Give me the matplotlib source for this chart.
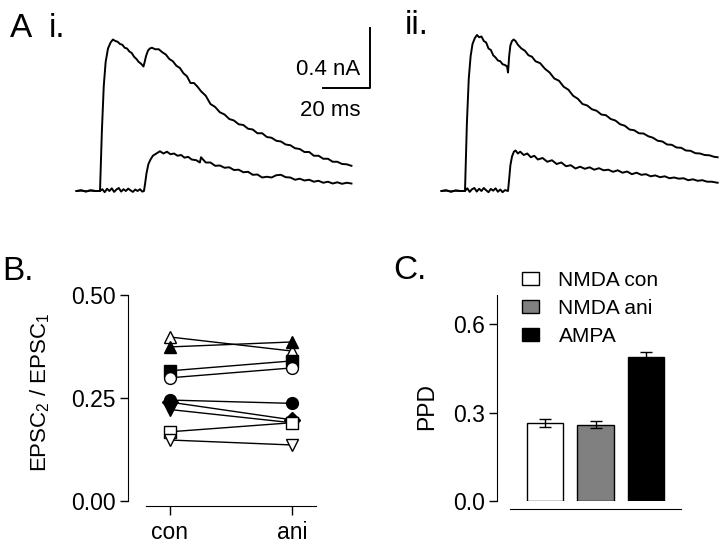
import matplotlib
matplotlib.use('Agg')
import matplotlib.pyplot as plt
from matplotlib.patches import Patch

plt.rcParams['font.family'] = ['Liberation Sans', 'DejaVu Sans']
plt.rcParams['mathtext.fontset'] = 'custom'
plt.rcParams['mathtext.rm'] = 'Liberation Sans'
plt.rcParams['mathtext.it'] = 'Liberation Sans'

W, H = 720, 548

# ---- panel A traces (time in ms from first stimulus, current in nA, inverted) ----
t_i_dual = [-10, -8, -6, -4, -2, 0, 0.8, 1.6, 2.4, 3.4, 4.5, 5.5, 6.5, 7.5, 8.5, 9.5,
            10.5, 11.5, 12.5, 13.5, 14.5, 15.5, 16.5, 17.5, 18.5, 19.0, 19.6, 20.4,
            21.2, 22.1, 23.5, 25, 26.5, 28, 29.5, 31, 32.5, 34, 35.5, 37, 38.5, 40,
            41.5, 43, 45, 47, 49, 51, 53, 55, 57, 59, 61, 63, 65, 67, 69, 71, 73, 75,
            77, 79, 81, 83, 85, 87, 89, 91, 93, 95, 97, 99, 101, 103, 105, 107]
i_i_dual = [0.0, 0.004, -0.003, 0.004, 0.0, 0.0, 0.40, 0.70, 0.86, 0.95, 0.99, 1.01,
            1.0, 0.995, 0.98, 0.975, 0.955, 0.95, 0.93, 0.92, 0.895, 0.88, 0.86, 0.848,
            0.83, 0.86, 0.90, 0.935, 0.95, 0.955, 0.945, 0.945, 0.925, 0.91, 0.88,
            0.865, 0.835, 0.82, 0.785, 0.765, 0.72, 0.72, 0.695, 0.665, 0.635, 0.58,
            0.56, 0.525, 0.51, 0.48, 0.47, 0.445, 0.44, 0.415, 0.41, 0.385, 0.385,
            0.36, 0.355, 0.335, 0.33, 0.31, 0.305, 0.285, 0.28, 0.26, 0.26, 0.235,
            0.235, 0.215, 0.215, 0.195, 0.195, 0.18, 0.178, 0.168]

t_i_nmda = [-10, -8, -6, -4, -2, 0, 1, 2, 3, 4, 5, 6, 7, 8, 9, 10, 11, 12, 13, 14, 15,
            16, 17, 18, 18.7, 19.2, 19.8, 20.6, 21.5, 22.5, 24, 25.5, 27, 28.5, 30,
            31.5, 33, 34.5, 36, 37.5, 39, 41, 42.5, 43, 45, 47, 49, 51, 53, 55, 57,
            59, 61, 63, 65, 67, 69, 71, 73, 75, 77, 79, 81, 83, 85, 87, 89, 91, 93,
            95, 97, 99, 101, 103, 105, 107]
i_i_nmda = [0.0, 0.004, -0.003, 0.004, 0.0, 0.0, 0.012, -0.008, 0.015, 0.0, 0.018,
            -0.006, 0.01, 0.02, -0.004, 0.012, 0.0, 0.016, 0.004, -0.006, 0.01, 0.0,
            0.012, -0.004, 0.0, 0.05, 0.12, 0.18, 0.21, 0.235, 0.25, 0.265, 0.25,
            0.262, 0.245, 0.25, 0.235, 0.24, 0.222, 0.228, 0.21, 0.205, 0.19, 0.225,
            0.19, 0.19, 0.168, 0.17, 0.155, 0.158, 0.14, 0.142, 0.125, 0.128, 0.108,
            0.11, 0.09, 0.095, 0.09, 0.105, 0.108, 0.092, 0.09, 0.075, 0.082, 0.07,
            0.075, 0.062, 0.068, 0.055, 0.062, 0.05, 0.058, 0.048, 0.055, 0.05]

t_ii_dual = [-10, -8, -6, -4, -2, 0, 0.8, 1.6, 2.4, 3.2, 4.2, 5.1, 6, 7, 8, 9, 10, 11,
             12, 13, 14, 15, 16, 17, 17.9, 18.3, 18.8, 19.3, 20, 20.7, 21.5, 22.5, 24,
             25.5, 27, 28.5, 30, 32, 34, 36, 38, 40, 42, 44, 46, 48, 50, 52, 54, 56,
             58, 60, 62, 64, 66, 68, 70, 72, 74, 76, 78, 80, 82, 84, 86, 88, 90, 92,
             94, 96, 98, 100, 102, 104, 106, 107.5]
i_ii_dual = [0.0, 0.004, -0.004, 0.003, 0.0, 0.0, 0.45, 0.75, 0.90, 0.98, 1.02, 1.04,
             1.025, 1.03, 1.0, 0.99, 0.95, 0.94, 0.905, 0.89, 0.87, 0.865, 0.845,
             0.84, 0.83, 0.79, 0.90, 0.97, 1.0, 1.01, 1.0, 0.975, 0.95, 0.935, 0.905,
             0.895, 0.865, 0.852, 0.815, 0.79, 0.75, 0.735, 0.695, 0.675, 0.635,
             0.615, 0.58, 0.57, 0.545, 0.535, 0.51, 0.505, 0.48, 0.47, 0.445, 0.435,
             0.41, 0.405, 0.385, 0.383, 0.365, 0.355, 0.335, 0.33, 0.31, 0.308, 0.29,
             0.288, 0.27, 0.268, 0.252, 0.25, 0.24, 0.238, 0.228, 0.225]

t_ii_nmda = [-10, -8, -6, -4, -2, 0, 1, 2, 3, 4, 5, 6, 7, 8, 9, 10, 11, 12, 13, 14, 15,
             16, 17, 18.3, 18.8, 19.3, 20, 20.8, 21.5, 22.5, 23.5, 25, 26.5, 28, 29.5,
             31, 33, 35, 37, 39, 41, 43, 45, 47, 49, 51, 53, 55, 57, 59, 61, 63, 65,
             67, 69, 71, 73, 75, 77, 79, 81, 83, 85, 87, 89, 91, 93, 95, 97, 99, 101,
             103, 105, 107.5]
i_ii_nmda = [0.0, 0.004, -0.004, 0.003, 0.0, 0.0, 0.018, -0.006, 0.012, 0.02, -0.004,
             0.015, 0.0, 0.02, 0.005, -0.008, 0.014, 0.002, 0.018, -0.005, 0.01,
             -0.008, 0.006, 0.0, 0.08, 0.17, 0.23, 0.262, 0.27, 0.25, 0.262, 0.24,
             0.25, 0.225, 0.235, 0.21, 0.22, 0.195, 0.205, 0.18, 0.19, 0.165, 0.172,
             0.15, 0.162, 0.148, 0.158, 0.142, 0.152, 0.138, 0.142, 0.128, 0.138,
             0.122, 0.13, 0.112, 0.122, 0.108, 0.112, 0.098, 0.104, 0.092, 0.098,
             0.085, 0.09, 0.082, 0.085, 0.072, 0.078, 0.068, 0.072, 0.062, 0.062,
             0.055]

# ---- panel B: paired ratios ----
conditions = ['con', 'ani']
ratio_con = [0.398, 0.374, 0.316, 0.299, 0.245, 0.240, 0.222, 0.168, 0.148]
ratio_ani = [0.364, 0.386, 0.340, 0.323, 0.237, 0.197, 0.190, 0.190, 0.136]
pair_markers = ['^', '^', 's', 'o', 'o', 'D', 'v', 's', 'v']
pair_filled = [False, True, True, False, True, True, True, False, False]

# ---- panel C: bars ----
bar_labels = ['NMDA con', 'NMDA ani', 'AMPA']
ppd_mean = [0.266, 0.259, 0.488]
ppd_sem = [0.013, 0.012, 0.020]
bar_colors = ['white', '#808080', 'black']


def px_axes(left, top, right, bottom):
    return fig.add_axes([left / W, 1 - bottom / H, (right - left) / W, (bottom - top) / H])


fig = plt.figure(figsize=(W / 100, H / 100), dpi=100)

# panel A: both recordings drawn to the same scale
ms_px = 47 / 20.0
na_px = 150.0
ax_i = px_axes(60, 20, 400, 200)
ax_i.set_xlim((60 - 100) / ms_px, (400 - 100) / ms_px)
ax_i.set_ylim((191 - 200) / na_px, (191 - 20) / na_px)
ax_i.plot(t_i_dual, i_i_dual, color='black', lw=1.4)
ax_i.plot(t_i_nmda, i_i_nmda, color='black', lw=1.4)
ax_i.axis('off')

# scale bar
sb_x, sb_y = 114.9, 0.687
ax_i.plot([sb_x - 20, sb_x, sb_x], [sb_y, sb_y, sb_y + 0.4], color='black', lw=1.4,
          clip_on=False)
ax_i.text(sb_x - 18, sb_y + 0.12, '0.4 nA', fontsize=16, ha='center', va='center')
ax_i.text(sb_x - 17, sb_y - 0.147, '20 ms', fontsize=16, ha='center', va='center')

ax_ii = px_axes(420, 20, 720, 200)
ax_ii.set_xlim((420 - 465) / ms_px, (720 - 465) / ms_px)
ax_ii.set_ylim((191 - 200) / na_px, (191 - 20) / na_px)
ax_ii.plot(t_ii_dual, i_ii_dual, color='black', lw=1.4)
ax_ii.plot(t_ii_nmda, i_ii_nmda, color='black', lw=1.4)
ax_ii.axis('off')

fig.text(10 / W, 1 - 37 / H, 'A', fontsize=24, va='baseline')
fig.text(49 / W, 1 - 37 / H, 'i.', fontsize=24, va='baseline')
fig.text(405 / W, 1 - 34 / H, 'ii.', fontsize=24, va='baseline')

# panel B
axb = px_axes(128, 295, 330, 501)
for k in range(len(ratio_con)):
    face = 'black' if pair_filled[k] else 'white'
    axb.plot([0, 1], [ratio_con[k], ratio_ani[k]], color='black', lw=1.0,
             marker=pair_markers[k], markersize=8.5, markerfacecolor=face,
             markeredgecolor='black', markeredgewidth=1.0, clip_on=False)
axb.set_xlim((128 - 170) / 122, (330 - 170) / 122)
axb.set_ylim(0, 0.5)
axb.set_yticks([0, 0.25, 0.5])
axb.set_yticklabels(['0.00', '0.25', '0.50'])
axb.set_xticks([0, 1])
axb.set_xticklabels(conditions)
axb.spines['top'].set_visible(False)
axb.spines['right'].set_visible(False)
axb.spines['bottom'].set_position(('outward', 3.6))
axb.spines['bottom'].set_bounds(-0.197, 1.197)
axb.tick_params(axis='y', direction='out', length=5.8, width=1, pad=3, labelsize=16.5)
axb.tick_params(axis='x', direction='out', length=6.5, width=1, pad=4, labelsize=16.5)
fig.text(40 / W, 1 - 392 / H, r'EPSC$_2$ / EPSC$_1$', fontsize=16, rotation=90,
         ha='center', va='center')
fig.text(2 / W, 1 - 280 / H, 'B.', fontsize=24, va='baseline')

# panel C
axc = px_axes(497, 295, 690, 501)
xpos = [0, 1, 2]
axc.bar(xpos, ppd_mean, width=0.713, color=bar_colors, edgecolor='black', lw=1.0)
axc.errorbar(xpos, ppd_mean, yerr=ppd_sem, fmt='none', ecolor='black', elinewidth=1.0,
             capsize=4, capthick=1.0)
axc.set_xlim((497 - 545) / 50.5, (690 - 545) / 50.5)
axc.set_ylim(0, 0.7)
axc.set_yticks([0, 0.3, 0.6])
axc.set_yticklabels(['0.0', '0.3', '0.6'])
axc.set_xticks([])
axc.spines['top'].set_visible(False)
axc.spines['right'].set_visible(False)
axc.spines['bottom'].set_position(('outward', 5.8))
axc.spines['bottom'].set_bounds(-0.693, 2.69)
axc.tick_params(axis='y', direction='out', length=5.8, width=1, pad=3, labelsize=16.5)
fig.text(427 / W, 1 - 407 / H, 'PPD', fontsize=16.5, rotation=90, ha='center',
         va='center')
fig.text(393 / W, 1 - 279 / H, 'C.', fontsize=24, va='baseline')

handles = [Patch(facecolor=c, edgecolor='black', lw=1.0) for c in bar_colors]
fig.legend(handles, bar_labels, loc='upper left', bbox_to_anchor=(522 / W, 1 - 271 / H),
           frameon=False, fontsize=15, handlelength=0.8, handleheight=0.6,
           handletextpad=0.95, labelspacing=0.42, borderpad=0, borderaxespad=0)

fig.savefig('out.png', dpi=100)
